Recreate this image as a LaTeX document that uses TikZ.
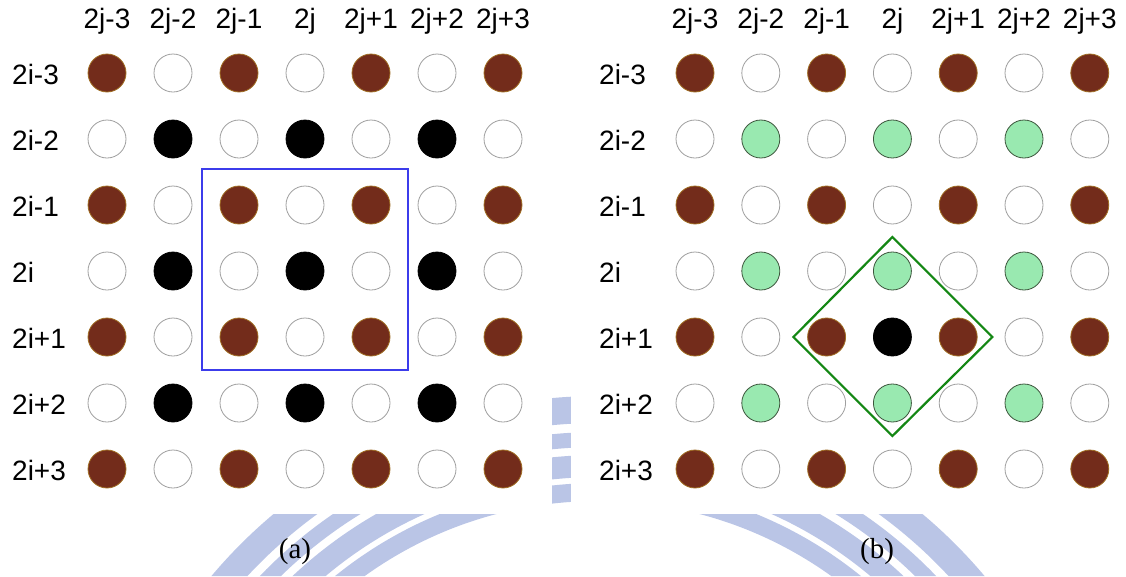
\documentclass[tikz,border=0pt]{standalone}
\usepackage{fontspec}
\setmainfont{Liberation Serif}
\newfontfamily\labfont{Liberation Sans}
\usetikzlibrary{calc}
\definecolor{brownfill}{RGB}{115,44,27}
\definecolor{brownedge}{RGB}{160,110,35}
\definecolor{greenfill}{RGB}{153,233,176}
\definecolor{greenedge}{RGB}{60,85,60}
\definecolor{boxblue}{RGB}{60,60,235}
\definecolor{diagreen}{RGB}{20,135,20}
\definecolor{wmblue}{RGB}{186,197,230}
\begin{document}
\begin{tikzpicture}[x=1pt,y=-1pt,
  dot/.style={circle,minimum size=38pt,inner sep=0pt,line width=0.8pt},
  wdot/.style={dot,draw=gray!75},
  bdot/.style={dot,fill=brownfill,draw=brownedge},
  kdot/.style={dot,fill=black,draw=black},
  gdot/.style={dot,fill=greenfill,draw=greenedge},
  lab/.style={font=\labfont\fontsize{28}{30}\selectfont,inner sep=0pt},
  captext/.style={font=\fontsize{29}{31}\selectfont,inner sep=0pt},
  wm/.style={fill=wmblue,even odd rule}]
\useasboundingbox (0,0) rectangle (1126,576);
% faint watermark behind the panels
\begin{scope}
  \clip (0,514) rectangle (1126,576) (552,390) rectangle (571,514);
  \fill[wm] (598,901) circle (505pt) circle (478pt) circle (469pt) circle (454pt)
                      circle (446pt) circle (424pt) circle (418pt) circle (400pt);
\end{scope}
\fill[white] (0,0) rectangle (552,514);
\fill[white] (571,0) rectangle (1126,514);
% panel (a)
\foreach \r in {1,...,7}{
  \foreach \c in {1,...,7}{
    \pgfmathtruncatemacro\ro{mod(\r,2)}
    \pgfmathtruncatemacro\co{mod(\c,2)}
    \ifnum\ro=1
      \ifnum\co=1 \def\st{bdot}\else\def\st{wdot}\fi
    \else
      \ifnum\co=0 \def\st{kdot}\else\def\st{wdot}\fi
    \fi
    \node[\st] (a-\r-\c) at ({107+66*(\c-1)},{73+66*(\r-1)}) {};
  }
}
% panel (b)
\foreach \r in {1,...,7}{
  \foreach \c in {1,...,7}{
    \pgfmathtruncatemacro\ro{mod(\r,2)}
    \pgfmathtruncatemacro\co{mod(\c,2)}
    \ifnum\ro=1
      \ifnum\co=1 \def\st{bdot}\else\def\st{wdot}\fi
    \else
      \ifnum\co=0 \def\st{gdot}\else\def\st{wdot}\fi
    \fi
    \ifnum\r=5 \ifnum\c=4 \def\st{kdot}\fi\fi
    \node[\st] (b-\r-\c) at ({695+65.8*(\c-1)},{73+66*(\r-1)}) {};
  }
}
% labels
\foreach \t [count=\c] in {2j-3,2j-2,2j-1,2j,2j+1,2j+2,2j+3}{
  \node[lab,anchor=base] (ac\c) at ({107+66*(\c-1)},28.5) {\t};
  \node[lab,anchor=base] (bc\c) at ({695+65.8*(\c-1)},28.5) {\t};
}
\foreach \t [count=\r] in {2i-3,2i-2,2i-1,2i,2i+1,2i+2,2i+3}{
  \node[lab,anchor=base west] (ar\r) at (12,{84+66*(\r-1)}) {\t};
  \node[lab,anchor=base west] (br\r) at (599,{84+66*(\r-1)}) {\t};
}
% window in (a)
\draw[boxblue,line width=1.5pt] ($(a-3-3.center)+(-37,-36)$) rectangle ($(a-5-5.center)+(37,33)$);
% diamond in (b)
\draw[diagreen,line width=2.2pt,line join=miter]
  ($(b-5-4.center)+(0,-100)$) -- ($(b-5-4.center)+(100,0)$) --
  ($(b-5-4.center)+(0,99)$) -- ($(b-5-4.center)+(-99,0)$) -- cycle;
% captions
\node[captext] (capa) at (295,552) {(a)};
\node[captext] (capb) at (877,552) {(b)};
\end{tikzpicture}
\end{document}
